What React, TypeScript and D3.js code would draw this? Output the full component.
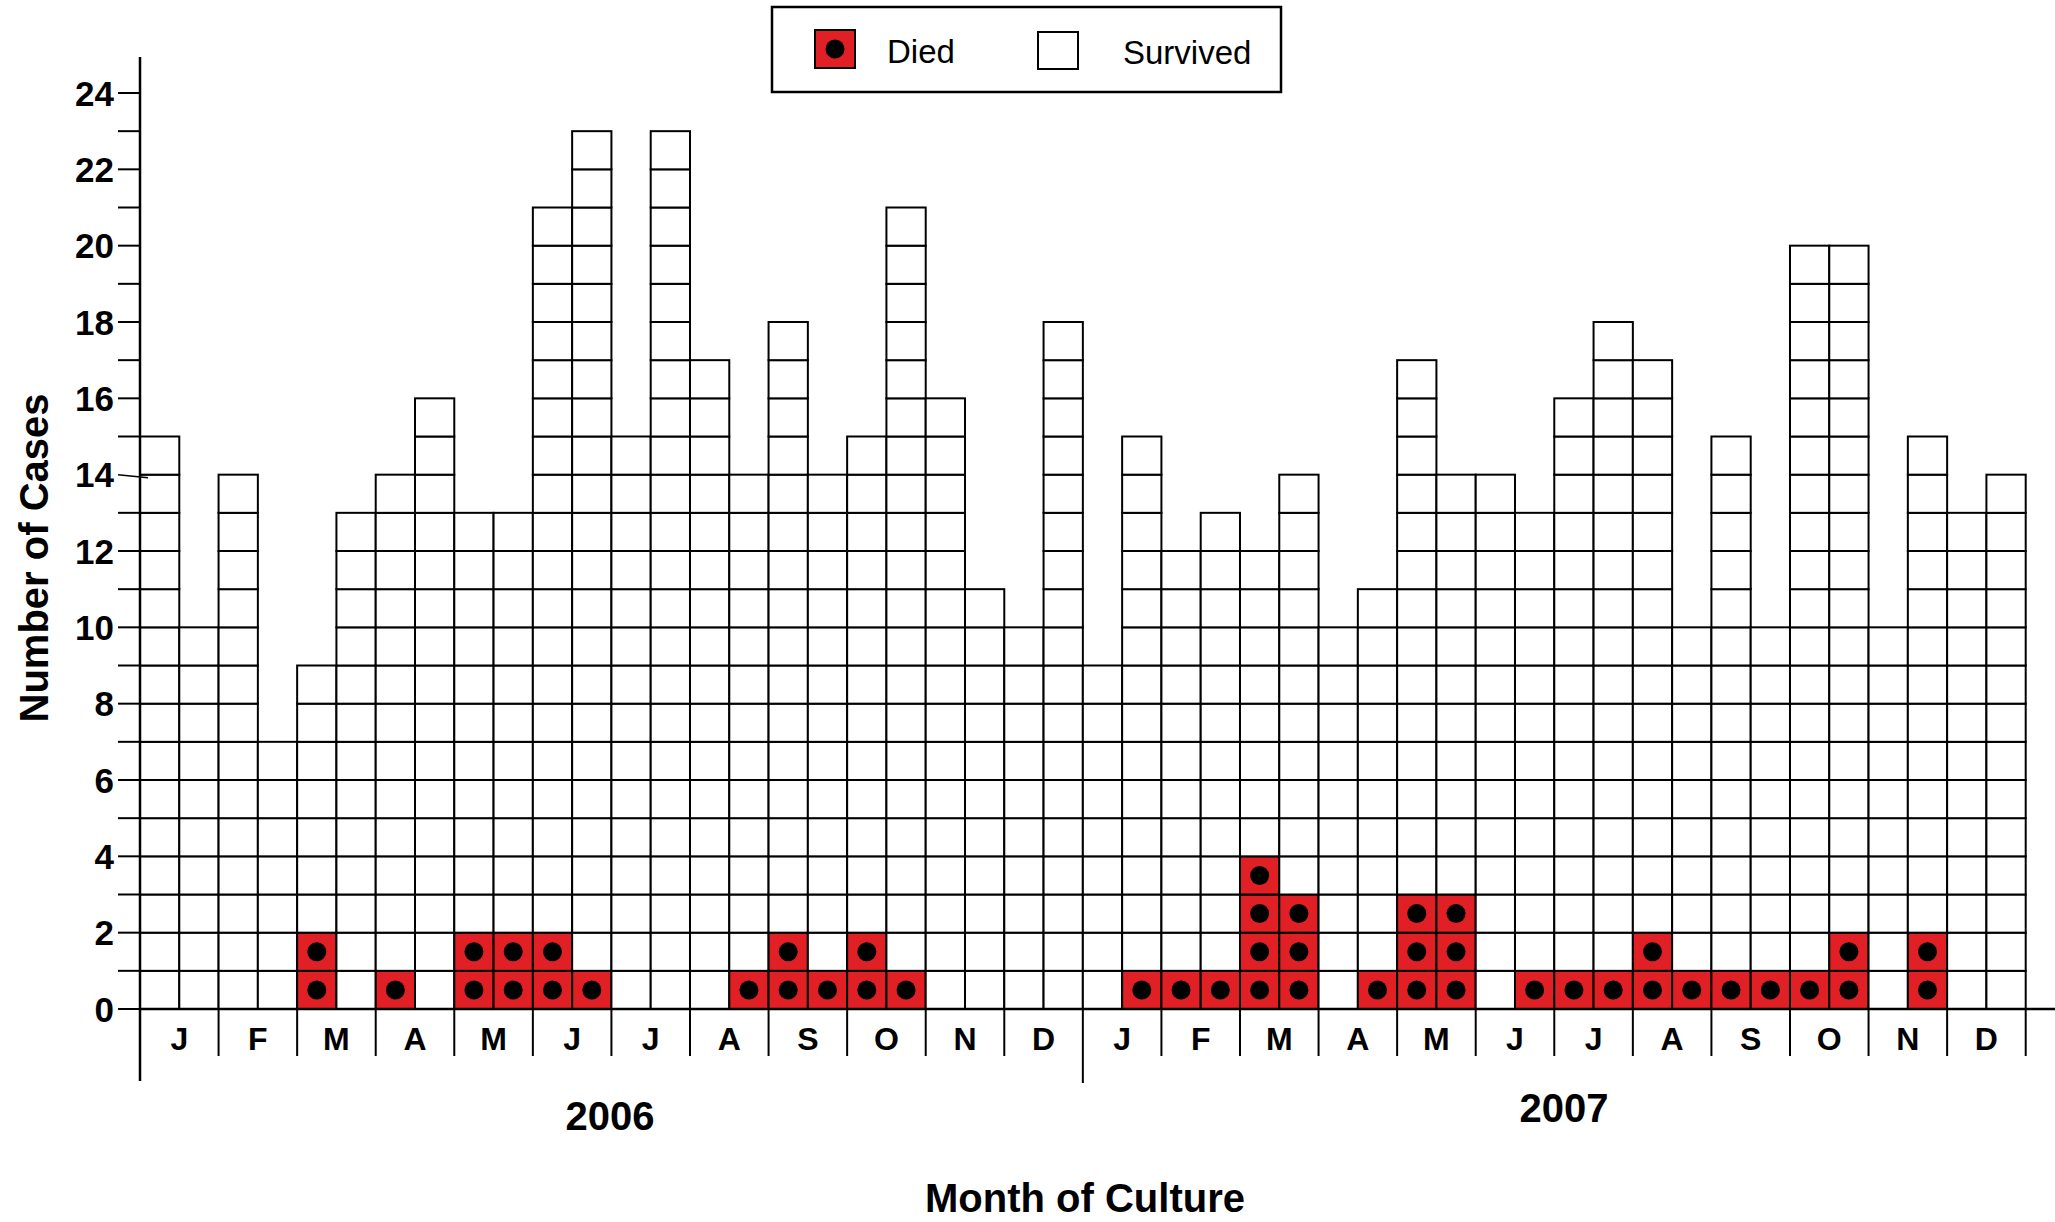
import React from "react";
import * as d3 from "d3";

// half-month bins, Jan 2006 .. Dec 2007 (two bars per month)
const monthLabels = ["J", "F", "M", "A", "M", "J", "J", "A", "S", "O", "N", "D"];
const yearLabels = ["2006", "2007"];

const totalCases = [
  15, 10, 14, 7, 9, 13, 14, 16, 13, 13, 21, 23,
  15, 23, 17, 14, 18, 14, 15, 21, 16, 11, 10, 18,
  9, 15, 12, 13, 12, 14, 10, 11, 17, 14, 14, 13,
  16, 18, 17, 10, 15, 10, 20, 20, 10, 15, 13, 14,
];

const diedCases = [
  0, 0, 0, 0, 2, 0, 1, 0, 2, 2, 2, 1,
  0, 0, 0, 1, 2, 1, 2, 1, 0, 0, 0, 0,
  0, 1, 1, 1, 4, 3, 0, 1, 3, 3, 0, 1,
  1, 1, 2, 1, 1, 1, 1, 2, 0, 2, 0, 0,
];

const yTicks = d3.range(0, 25);
const legendItems = ["Died", "Survived"];

const RED = "#e02024";
const FONT = "'Liberation Sans', Arial, Helvetica, sans-serif";

export default function App() {
  const width = 2055, height = 1222;
  const left = 140, right = 2025.7, base = 1009, top24 = 93;

  const x = d3.scaleBand<number>().domain(d3.range(totalCases.length)).range([left, right]).padding(0);
  const y = d3.scaleLinear().domain([0, 24]).range([base, top24]);
  const bw = x.bandwidth();
  const monthW = bw * 2;

  const cells: any[] = [];
  totalCases.forEach((tot, i) => {
    for (let k = 0; k < tot; k++) {
      const died = k < diedCases[i];
      cells.push({ i, k, died });
    }
  });

  return (
    <div style={{ position: "absolute", left: 0, top: 0 }}>
      <svg width={width} height={height} style={{ display: "block", background: "#fff" }}>
        {/* cells */}
        {cells.map((c) => (
          <rect
            key={`c-${c.i}-${c.k}`}
            x={x(c.i)}
            y={y(c.k + 1)}
            width={bw}
            height={y(c.k) - y(c.k + 1)}
            fill={c.died ? RED : "#fff"}
            stroke="#000"
            strokeWidth={2}
          />
        ))}
        {cells.filter((c) => c.died).map((c) => (
          <circle
            key={`d-${c.i}-${c.k}`}
            cx={(x(c.i) as number) + bw / 2}
            cy={(y(c.k) + y(c.k + 1)) / 2}
            r={9.5}
            fill="#000"
          />
        ))}

        {/* x baseline */}
        <line x1={left} x2={width} y1={base} y2={base} stroke="#000" strokeWidth={2.5} />
        {/* month separators */}
        {d3.range(1, 25).map((m) => {
          const xx = left + m * monthW;
          return (
            <line key={`ms-${m}`} x1={xx} x2={xx} y1={base} y2={m === 12 ? 1083 : 1056} stroke="#000" strokeWidth={2} />
          );
        })}
        {/* month labels */}
        {d3.range(24).map((m) => (
          <text
            key={`ml-${m}`}
            x={left + m * monthW + monthW / 2}
            y={1050}
            textAnchor="middle"
            fontFamily={FONT}
            fontWeight="bold"
            fontSize={32}
          >
            {monthLabels[m % 12]}
          </text>
        ))}
        {/* year labels */}
        <text x={610} y={1130} textAnchor="middle" fontFamily={FONT} fontWeight="bold" fontSize={40}>{yearLabels[0]}</text>
        <text x={1564} y={1122} textAnchor="middle" fontFamily={FONT} fontWeight="bold" fontSize={40}>{yearLabels[1]}</text>

        {/* y axis */}
        <line x1={left} x2={left} y1={57} y2={1081} stroke="#000" strokeWidth={2.5} />
        {yTicks.map((t) => (
          <g key={`yt-${t}`}>
            {t === 14 ? (
              <line x1={118} x2={148} y1={y(t)} y2={y(t) + 3} stroke="#000" strokeWidth={1.5} />
            ) : (
              <line x1={118} x2={left} y1={y(t)} y2={y(t)} stroke="#000" strokeWidth={2} />
            )}
            {t % 2 === 0 && (
              <text x={114} y={y(t)} dy="0.36em" textAnchor="end" fontFamily={FONT} fontWeight="bold" fontSize={35}>
                {t}
              </text>
            )}
          </g>
        ))}

        {/* axis titles */}
        <text
          transform={`translate(48, 558) rotate(-90)`}
          textAnchor="middle"
          fontFamily={FONT}
          fontWeight="bold"
          fontSize={40}
        >
          Number of Cases
        </text>
        <text x={1085} y={1212} textAnchor="middle" fontFamily={FONT} fontWeight="bold" fontSize={40}>
          Month of Culture
        </text>

        {/* legend */}
        <rect x={772} y={7} width={509} height={85} fill="#fff" stroke="#000" strokeWidth={2.5} />
        <rect x={815} y={30} width={40} height={38} fill={RED} stroke="#000" strokeWidth={2} />
        <circle cx={835} cy={49} r={9.5} fill="#000" />
        <text x={887} y={63} fontFamily={FONT} fontSize={33}>{legendItems[0]}</text>
        <rect x={1038} y={32} width={40} height={37} fill="#fff" stroke="#000" strokeWidth={2} />
        <text x={1123} y={64} fontFamily={FONT} fontSize={33}>{legendItems[1]}</text>
      </svg>
    </div>
  );
}
